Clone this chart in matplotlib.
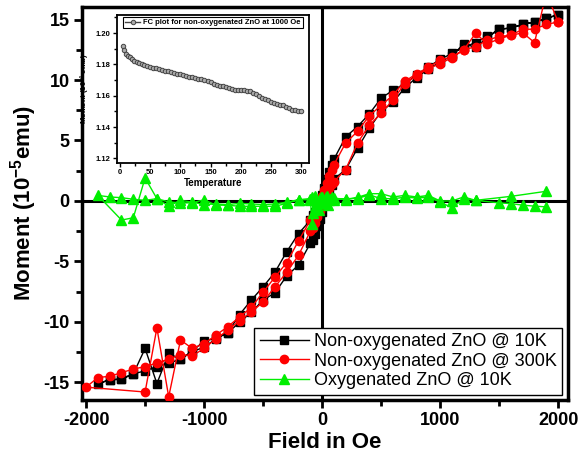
import matplotlib
matplotlib.use("Agg")
import matplotlib.pyplot as plt
from matplotlib.ticker import MultipleLocator

plt.rcParams['font.family'] = ['Liberation Sans', 'DejaVu Sans']
plt.rcParams['axes.unicode_minus'] = False
plt.rcParams['mathtext.fontset'] = 'custom'
plt.rcParams['mathtext.rm'] = 'Liberation Sans:bold'
plt.rcParams['mathtext.bf'] = 'Liberation Sans:bold'
plt.rcParams['mathtext.default'] = 'bf'

# =========================
# data (field in Oe, moment in 1e-5 emu)
# =========================
# 10K non-oxygenated: down branch 2000 -> -1900, then up branch -1800 -> 2000
h_10k = [2000, 1900, 1800, 1700, 1600, 1500, 1400, 1300, 1200, 1100, 1000, 900, 800,
         700, 600, 500, 400, 300, 200, 100, 80, 60, 40, 20, 0, -20, -40, -60, -80,
         -100, -200, -300, -400, -500, -600, -700, -800, -900, -1000, -1100, -1200,
         -1300, -1400, -1500, -1600, -1700, -1800, -1900,
         -1800, -1700, -1600, -1500, -1400, -1300, -1200, -1100, -1000, -900, -800,
         -700, -600, -500, -400, -300, -200, -100, -80, -60, -40, -20, 0, 20, 40, 60,
         80, 100, 200, 300, 400, 500, 600, 700, 800, 900, 1000, 1100, 1200, 1300,
         1400, 1500, 1600, 1700, 1800, 1900, 2000]
m_10k = [15.4, 15.1, 14.8, 14.6, 14.3, 14.2, 13.6, 13.1, 12.7, 12.2, 11.7, 11.1, 10.4,
         9.7, 9.15, 8.5, 7.2, 6.15, 5.3, 3.45, 3.0, 2.4, 1.8, 1.1, 0.5, -0.1, -0.6, -0.9,
         -1.2, -1.6, -2.7, -4.2, -5.9, -7.1, -8.2, -9.4, -10.9, -11.35, -11.6, -12.4,
         -13.1, -12.6, -15.1, -12.2, -14.3, -14.75, -14.8, -15.1,
         -14.8, -14.7, -14.3, -14.05, -13.7, -13.4, -13.1, -12.45, -12.1, -11.4, -10.9,
         -10.05, -9.2, -8.2, -7.6, -6.2, -5.3, -3.5, -3.25, -2.7, -2.1, -1.5, -0.9,
         -0.3, 0.3, 0.8, 1.3, 1.8, 2.6, 4.35, 6.0, 7.4, 8.15, 9.35, 10.2, 10.9, 11.5,
         12.0, 13.0, 12.7, 13.5, 14.2, 14.3, 14.6, 14.8, 15.1, 15.4]

# 300K non-oxygenated
h_300k = [2000, 1900, 1800, 1700, 1600, 1500, 1400, 1300, 1200, 1100, 1000, 900, 800,
          700, 600, 500, 400, 300, 200, 100, 80, 60, 40, 20, 0, -20, -40, -60, -80,
          -100, -200, -300, -400, -500, -600, -700, -800, -900, -1000, -1100, -1200,
          -1300, -1400, -1500, -2000,
          -1900, -1800, -1700, -1600, -1500, -1400, -1300, -1200, -1100, -1000, -900,
          -800, -700, -600, -500, -400, -300, -200, -100, -80, -60, -40, -20, 0, 20,
          40, 60, 80, 100, 200, 300, 400, 500, 600, 700, 800, 900, 1000, 1100, 1200,
          1300, 1400, 1500, 1600, 1700, 1800, 1900, 2000]
m_300k = [14.8, 14.6, 14.2, 14.2, 13.7, 13.4, 13.0, 13.85, 12.5, 11.9, 11.65, 11.05,
          10.5, 9.9, 8.75, 7.9, 7.05, 5.75, 4.8, 3.0, 2.6, 2.1, 1.5, 0.9, 0.4, -0.1,
          -0.6, -1.0, -1.3, -1.6, -3.3, -5.1, -6.3, -7.55, -8.8, -9.6, -10.4, -11.1,
          -11.8, -12.2, -11.5, -16.2, -10.5, -15.8, -15.4,
          -14.6, -14.5, -14.2, -13.9, -13.7, -13.4, -13.1, -12.7, -12.8, -12.2, -11.4,
          -10.7, -9.9, -9.2, -8.35, -7.1, -5.9, -4.5, -2.5, -2.2, -1.8, -1.3, -0.8,
          -0.3, 0.2, 0.7, 1.1, 1.4, 1.6, 2.6, 4.8, 6.25, 7.25, 8.35, 9.7, 10.35, 10.95,
          11.35, 11.85, 12.5, 12.75, 13.3, 13.6, 13.7, 13.9, 13.1, 17.2, 14.8]

# 10K oxygenated
h_oxy = [1900, 1600, 1300, 1200, 1100, 1000, 900, 800, 700, 600, 500, 400, 300, 200,
         100, 80, 60, 40, 20, 0, -20, -40, -60, -75, -85, -100, -200, -300, -400,
         -500, -600, -700, -800, -900, -1000, -1100, -1200, -1300, -1400, -1500,
         -1600, -1700, -1800, -1900,
         -1700, -1600, -1500, -1400, -1300, -1200, -1100, -1000, -900, -800, -700,
         -600, -500, -400, -300, -200, -100, -85, -70, -50, -30, -10, 10, 30, 50, 70,
         100, 200, 300, 400, 500, 600, 700, 800, 900, 1000, 1100, 1200, 1300, 1500,
         1600, 1700, 1800, 1900]
m_oxy = [0.8, 0.38, 0.05, 0.33, 0.0, 0.0, 0.46, 0.33, 0.46, 0.33, 0.6, 0.6, 0.3, 0.1,
         0.25, 0.35, 0.1, 0.4, -0.1, 0.3, 0.2, -0.3, 0.4, -1.0, 0.3, 0.1, 0.1, -0.2,
         -0.44, -0.44, -0.44, -0.44, -0.35, -0.35, 0.1, -0.16, -0.16, -0.08, 0.19,
         0.05, 0.14, 0.27, 0.33, 0.46,
         -1.58, -1.39, 1.9, 0.19, -0.43, 0.05, -0.1, -0.3, -0.25, -0.3, -0.2, -0.25,
         -0.3, -0.25, -0.1, 0.1, 0.2, -1.9, 0.2, -0.4, -0.76, 0.3, -0.2, 0.35, -0.3,
         0.2, 0.1, 0.2, 0.2, 0.5, 0.19, 0.19, 0.3, 0.25, 0.3, -0.08, -0.57, 0.19,
         0.05, -0.16, -0.22, -0.35, -0.43, -0.49]

# inset: FC curve
temp_fc = [5, 7, 10, 13, 16, 20, 24, 28, 32, 36, 40, 45, 50, 55, 60, 65, 70, 75, 80,
           85, 90, 95, 100, 105, 110, 115, 120, 125, 130, 135, 140, 145, 150, 155, 160,
           165, 170, 175, 180, 185, 190, 195, 200, 205, 210, 215, 220, 225, 230, 235,
           240, 245, 250, 255, 260, 265, 270, 275, 280, 285, 290, 295, 300]
mom_fc = [1.1915, 1.189, 1.1865, 1.1855, 1.1845, 1.1835, 1.1825, 1.1815, 1.181, 1.180,
          1.1795, 1.179, 1.1785, 1.178, 1.1775, 1.177, 1.1765, 1.176, 1.1755, 1.175,
          1.1748, 1.1742, 1.1738, 1.1732, 1.1728, 1.1722, 1.1718, 1.1712, 1.1708,
          1.1705, 1.1698, 1.1692, 1.1685, 1.1678, 1.167, 1.1665, 1.1662, 1.1658,
          1.1652, 1.1645, 1.164, 1.1638, 1.1635, 1.1635, 1.1632, 1.1628, 1.162, 1.161,
          1.1598, 1.1588, 1.158, 1.1572, 1.1562, 1.1555, 1.1548, 1.1542, 1.1538,
          1.1528, 1.152, 1.1512, 1.1508, 1.1505, 1.1502]

# =========================
# main plot
# =========================
fig = plt.figure(figsize=(5.78, 4.57), dpi=100)
ax = fig.add_axes([0.142, 0.125, 0.841, 0.860])

ax.axhline(0, color='black', lw=2.2, zorder=1)
ax.axvline(0, color='black', lw=2.2, zorder=1)

ax.plot(h_10k, m_10k, color='black', lw=1, marker='s', ms=5.5,
        label='Non-oxygenated ZnO @ 10K', zorder=3)
ax.plot(h_300k, m_300k, color='red', lw=1, marker='o', ms=6,
        label='Non-oxygenated ZnO @ 300K', zorder=4)
ax.plot(h_oxy, m_oxy, color='#00ee00', lw=1, marker='^', ms=6.5,
        label='Oxygenated ZnO @ 10K', zorder=5)

ax.set_xlim(-2034, 2085)
ax.set_ylim(-16.45, 16.05)
ax.xaxis.set_major_locator(MultipleLocator(1000))
ax.xaxis.set_minor_locator(MultipleLocator(500))
ax.yaxis.set_major_locator(MultipleLocator(5))
ax.yaxis.set_minor_locator(MultipleLocator(2.5))
ax.tick_params(which='both', direction='out', width=2, top=False, right=False)
ax.tick_params(which='major', length=6, labelsize=13, pad=3)
ax.tick_params(which='minor', length=4)
for lab in ax.get_xticklabels() + ax.get_yticklabels():
    lab.set_fontweight('bold')
for sp in ax.spines.values():
    sp.set_linewidth(2.5)

ax.set_xlabel('Field in Oe', fontsize=16, fontweight='bold', labelpad=2)
ax.set_ylabel('Moment (10$^{-5}$emu)', fontsize=16, fontweight='bold', labelpad=3)

leg = ax.legend(loc='lower right', bbox_to_anchor=(0.988, 0.013), borderaxespad=0,
                fontsize=13, fancybox=False, edgecolor='black', framealpha=1,
                handlelength=2.7, handletextpad=0.3, labelspacing=0.15,
                borderpad=0.3, numpoints=1)
leg.get_frame().set_linewidth(1)

# =========================
# inset
# =========================
ins = fig.add_axes([0.2024, 0.643, 0.332, 0.324])
ins.plot(temp_fc, mom_fc, color='#444444', lw=1, marker='o', ms=3.2,
         mfc='#aaaaaa', mec='#444444', mew=0.7,
         label='FC plot for non-oxygenated ZnO at 1000 Oe')
ins.set_xlim(-5, 313)
ins.set_ylim(1.117, 1.2115)
ins.xaxis.set_major_locator(MultipleLocator(50))
ins.xaxis.set_minor_locator(MultipleLocator(25))
ins.yaxis.set_major_locator(MultipleLocator(0.02))
ins.yaxis.set_minor_locator(MultipleLocator(0.01))
ins.tick_params(which='both', direction='out', width=1, top=False, right=False)
ins.tick_params(which='major', length=3, labelsize=5.5, pad=1.5)
ins.tick_params(which='minor', length=2)
for lab in ins.get_xticklabels() + ins.get_yticklabels():
    lab.set_fontweight('bold')
for sp in ins.spines.values():
    sp.set_linewidth(1.3)
ins.set_xlabel('Temperature', fontsize=7, fontweight='bold', labelpad=1)
ins.set_ylabel('Moment (10$^{-4}$ emu)', fontsize=5.5, fontweight='bold', labelpad=3)
ileg = ins.legend(loc='upper center', bbox_to_anchor=(0.5, 0.99), borderaxespad=0,
                  prop={'size': 5.5, 'weight': 'bold'}, fancybox=False,
                  edgecolor='black', framealpha=1, handlelength=2,
                  handletextpad=0.4, borderpad=0.3)
ileg.get_frame().set_linewidth(0.8)

fig.savefig('out.png', dpi=100)
